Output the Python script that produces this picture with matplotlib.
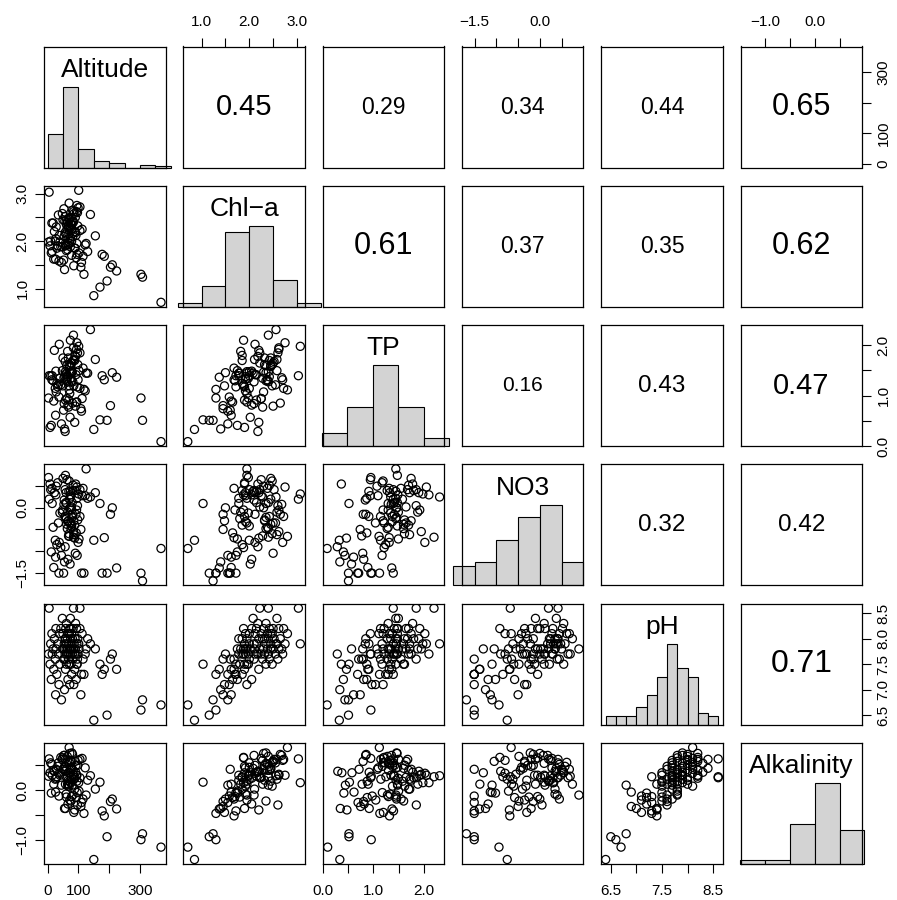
import numpy as np
import matplotlib
matplotlib.use("Agg")
import matplotlib.pyplot as plt

plt.rcParams['font.family'] = ['Liberation Sans', 'DejaVu Sans']

# one row per lake: values
altitude = [150, 368, 155, 170, 177, 184, 193, 204, 210, 224,
            118, 303, 308, 139, 45, 26, 108, 55, 37, 72,
            85, 12, 66, 93, 30, 78, 110, 58, 88, 20,
            61, 76, 95, 40, 96, 8, 70, 82, 52, 97,
            25, 68, 115, 56, 63, 88, 35, 74, 99, 15,
            57, 80, 122, 67, 3, 92, 71, 49, 84, 60,
            102, 28, 77, 90, 65, 53, 73, 125, 18, 69,
            86, 33, 79, 101, 54, 95, 10, 62, 75, 57,
            89, 64, 130, 22, 81, 58, 98, 70, 38, 70,
            66, 112, 50, 78, 14, 72, 94, 43, 83, 59,
            105, 27, 76, 61, 91, 48, 74, 84, 5, 105]
chla = [0.85, 0.71, 2.11, 1.03, 1.72, 1.68, 1.16, 1.45, 1.50, 1.37,
        1.30, 1.30, 1.24, 2.56, 1.55, 1.62, 1.45, 1.40, 1.58, 1.95,
        1.48, 1.75, 2.05, 1.65, 1.85, 1.70, 1.55, 1.90, 2.20, 1.62,
        1.80, 2.35, 1.95, 1.98, 1.72, 1.90, 2.48, 2.10, 1.60, 2.60,
        2.00, 2.28, 1.68, 2.42, 2.25, 1.85, 2.55, 1.88, 2.70, 1.78,
        2.18, 2.40, 1.92, 2.32, 1.98, 2.12, 2.45, 1.88, 2.62, 1.92,
        1.75, 2.30, 2.22, 2.50, 1.82, 2.68, 2.02, 1.95, 2.38, 2.15,
        2.58, 1.90, 2.35, 3.07, 2.10, 2.75, 2.00, 2.45, 2.28, 2.52,
        1.85, 2.40, 1.78, 2.20, 2.65, 1.95, 2.32, 2.48, 2.12, 2.80,
        1.92, 2.25, 2.45, 2.00, 2.38, 2.30, 2.62, 1.88, 2.42, 2.15,
        2.72, 2.05, 2.50, 2.35, 2.18, 2.58, 2.08, 2.40, 3.03, 2.22]
tp = [0.34, 0.10, 1.72, 0.53, 1.40, 1.32, 0.52, 0.81, 1.46, 1.37,
      1.13, 0.96, 0.52, 2.31, 0.45, 0.62, 0.75, 0.35, 0.98, 1.05,
      1.20, 0.42, 0.82, 0.88, 1.25, 1.30, 0.70, 0.92, 0.48, 0.90,
      1.45, 1.60, 0.88, 1.35, 1.18, 0.38, 1.62, 1.28, 0.72, 1.85,
      1.15, 0.78, 1.55, 1.38, 0.95, 1.70, 1.22, 2.10, 1.32, 1.40,
      0.30, 1.48, 1.10, 1.75, 0.96, 1.42, 1.58, 1.20, 1.95, 1.33,
      1.50, 1.08, 1.65, 0.80, 1.88, 1.36, 0.58, 1.45, 1.30, 0.92,
      1.72, 1.18, 1.46, 1.98, 0.85, 2.05, 1.40, 1.60, 1.35, 1.68,
      1.80, 1.28, 1.45, 1.90, 0.86, 1.48, 1.62, 1.20, 2.02, 1.12,
      1.38, 0.95, 1.75, 1.48, 1.32, 1.47, 1.92, 1.22, 1.70, 1.42,
      1.15, 1.49, 1.65, 1.30, 1.78, 1.50, 1.45, 2.20, 1.40, 1.85]
no3 = [-0.75, -0.94, 0.35, 0.10, -1.51, -0.69, -1.51, -0.15, 0.00, -1.39,
       -1.51, -1.51, -1.69, 0.25, -1.10, -1.14, -0.50, -1.25, -1.51, -0.35,
       -0.30, -1.02, -1.19, -0.58, -0.85, -0.05, -1.51, -0.20, -0.70, -1.38,
       -0.25, -0.48, 0.22, -0.12, -1.10, 0.55, -0.60, 0.40, -1.51, 0.05,
       -0.75, -0.65, 0.45, -0.20, 0.65, -0.40, -0.35, 0.30, -0.80, 0.10,
       -0.90, 0.12, 0.28, -0.30, 0.70, -0.15, 0.20, -0.05, -0.55, 0.35,
       -0.72, 0.50, 0.02, -1.05, -0.10, 0.08, -1.30, 0.90, -0.45, 0.38,
       -0.62, 0.58, -0.22, 0.32, 0.18, 0.48, 0.42, -0.38, 0.25, 0.42,
       0.40, -0.48, 0.22, 0.35, -0.15, 0.75, -0.28, 0.62, -0.80, -0.66,
       -0.32, 0.28, 0.68, -0.42, 0.45, 0.00, -0.05, -0.92, 0.52, 0.12,
       -0.20, 0.30, -0.35, 0.10, 0.55, -0.10, 0.38, -0.68, 0.20, 0.42]
ph = [6.4, 6.7, 7.8, 7.5, 7.3, 7.4, 6.5, 7.6, 7.7, 7.4,
      7.3, 6.6, 6.8, 7.9, 6.8, 6.9, 6.9, 7.0, 7.1, 7.1,
      7.1, 7.2, 7.2, 7.2, 7.3, 7.3, 7.3, 7.4, 7.4, 7.4,
      7.5, 7.5, 7.5, 7.5, 7.5, 7.5, 7.5, 7.6, 7.6, 7.6,
      7.6, 7.6, 7.6, 7.6, 7.7, 7.7, 7.7, 7.7, 7.7, 7.7,
      7.7, 7.7, 7.7, 7.7, 7.7, 7.7, 7.8, 7.8, 7.8, 7.8,
      7.8, 7.8, 7.8, 7.8, 7.8, 7.8, 7.8, 7.8, 7.8, 7.9,
      7.9, 7.9, 7.9, 7.9, 7.9, 7.9, 7.9, 7.9, 8.0, 8.0,
      8.0, 8.0, 8.0, 8.0, 8.0, 8.0, 8.0, 8.1, 8.1, 8.1,
      8.1, 8.1, 8.1, 8.1, 8.1, 8.2, 8.2, 8.2, 8.2, 8.2,
      8.2, 8.2, 8.2, 8.3, 8.3, 8.4, 8.4, 8.6, 8.6, 8.6]
alkalinity = [-1.40, -1.15, 0.02, 0.16, -0.42, -0.52, -0.94, -0.23, -0.18, -0.38,
              -0.47, -1.00, -0.88, 0.29, 0.10, -0.04, -0.33, -0.37, -0.12, -0.20,
              -0.45, -0.06, -0.28, -0.15, 0.27, -0.13, -0.25, -0.37, -0.40, 0.12,
              -0.14, -0.22, 0.18, 0.30, -0.05, 0.35, 0.08, -0.10, 0.42, -0.30,
              0.22, 0.12, -0.18, 0.48, 0.25, 0.02, 0.55, 0.15, 0.60, 0.30,
              0.38, 0.10, 0.45, 0.20, 0.28, 0.50, 0.18, 0.65, 0.32, -0.08,
              -0.02, 0.42, 0.26, 0.58, 0.12, 0.70, 0.35, -0.10, 0.40, 0.36,
              0.22, 0.48, 0.75, 0.15, 0.70, 0.30, 0.55, 0.44, 0.60, 0.62,
              0.25, 0.68, 0.20, 0.38, 0.72, 0.12, 0.50, 0.56, 0.34, 0.86,
              0.08, 0.64, 0.42, 0.46, 0.52, 0.74, 0.30, 0.66, 0.40, 0.28,
              0.62, 0.24, 0.58, 0.54, 0.36, 0.62, 0.44, 0.27, 0.63, 0.25]

names = ["Altitude", "Chl\u2212a", "TP", "NO3", "pH", "Alkalinity"]

# correlations printed in the upper panels (row by row)
cor_text = ["0.45", "0.29", "0.34", "0.44", "0.65",
            "0.61", "0.37", "0.35", "0.62",
            "0.16", "0.43", "0.47",
            "0.32", "0.42",
            "0.71"]

# histogram breaks for each variable
breaks = [[0, 50, 100, 150, 200, 250, 300, 350, 400],
          [0.5, 1.0, 1.5, 2.0, 2.5, 3.0, 3.5],
          [0.0, 0.5, 1.0, 1.5, 2.0, 2.5],
          [-2.0, -1.5, -1.0, -0.5, 0.0, 0.5, 1.0],
          [6.4, 6.6, 6.8, 7.0, 7.2, 7.4, 7.6, 7.8, 8.0, 8.2, 8.4, 8.6],
          [-1.5, -1.0, -0.5, 0.0, 0.5, 1.0]]

ticks = [[0, 100, 200, 300],
         [1.0, 1.5, 2.0, 2.5, 3.0],
         [0.0, 0.5, 1.0, 1.5, 2.0],
         [-1.5, -1.0, -0.5, 0.0, 0.5],
         [6.5, 7.0, 7.5, 8.0, 8.5],
         [-1.0, -0.5, 0.0, 0.5]]
tick_labels = [["0", "100", "", "300"],
               ["1.0", "", "2.0", "", "3.0"],
               ["0.0", "", "1.0", "", "2.0"],
               ["\u22121.5", "", "", "0.0", ""],
               ["6.5", "", "7.5", "", "8.5"],
               ["\u22121.0", "", "0.0", ""]]
ph_right_labels = ["6.5", "7.0", "7.5", "8.0", "8.5"]

cor_size = {(0, 1): 21, (0, 2): 16.5, (0, 3): 16.5, (0, 4): 16.5, (0, 5): 22,
            (1, 2): 22, (1, 3): 16.5, (1, 4): 16.5, (1, 5): 22,
            (2, 3): 15, (2, 4): 17.5, (2, 5): 21,
            (3, 4): 17.5, (3, 5): 17.5,
            (4, 5): 23}

data = [np.array(v, dtype=float) for v in
        [altitude, chla, tp, no3, ph, alkalinity]]
lims = []
for v in data:
    r = v.max() - v.min()
    lims.append((v.min() - 0.04 * r, v.max() + 0.04 * r))

n = len(data)
fig = plt.figure(figsize=(8.97, 9.0), dpi=100)
W, H = 897.0, 900.0
step = 139.3
pw, ph_ = 121.5, 121.0

k = 0
for i in range(n):
    for j in range(n):
        left = (44 + j * step) / W
        bottom = 1 - (46.5 + i * step + ph_) / H
        ax = fig.add_axes([left, bottom, pw / W, ph_ / H])
        ax.set_xlim(lims[j])
        ax.set_xticks([])
        ax.set_yticks([])
        for s in ax.spines.values():
            s.set_linewidth(0.9)

        if i == j:
            v = data[i]
            b = np.array(breaks[i], dtype=float)
            idx = np.searchsorted(b, v, side='left')
            idx = np.clip(idx - 1, 0, len(b) - 2)
            counts = np.bincount(idx, minlength=len(b) - 1)
            ax.set_ylim(0, 1.5)
            ax.bar(b[:-1], counts / counts.max(), width=np.diff(b), align='edge',
                   color='#D3D3D3', edgecolor='black', linewidth=0.8, clip_on=False)
            ax.text(0.5, 0.75, names[i], transform=ax.transAxes, ha='center',
                    va='baseline', fontsize=19)
        elif i > j:
            ax.set_ylim(lims[i])
            ax.scatter(data[j], data[i], s=34, facecolors='none',
                       edgecolors='black', linewidths=0.9)
        else:
            ax.set_ylim(lims[i])
            ax.text(0.5, 0.5, cor_text[k], transform=ax.transAxes, ha='center',
                    va='center', fontsize=cor_size[(i, j)])
            k += 1

        tp_kw = dict(length=6.5, width=0.8, direction='out', labelsize=11)
        if i == 0 and j % 2 == 1:
            ax.set_xticks(ticks[j])
            ax.set_xticklabels(tick_labels[j])
            ax.tick_params(axis='x', top=True, labeltop=True, bottom=False,
                           labelbottom=False, pad=6, **tp_kw)
        if i == n - 1 and j % 2 == 0:
            ax.set_xticks(ticks[j])
            ax.set_xticklabels(tick_labels[j])
            ax.tick_params(axis='x', pad=8, **tp_kw)
        if j == 0 and i % 2 == 1:
            ax.set_yticks(ticks[i])
            ax.set_yticklabels(tick_labels[i], rotation=90, va='center')
            ax.tick_params(axis='y', pad=4, **tp_kw)
        if j == n - 1 and i % 2 == 0:
            ax.set_yticks(ticks[i])
            labs = ph_right_labels if i == 4 else tick_labels[i]
            ax.set_yticklabels(labs, rotation=90, va='center')
            ax.tick_params(axis='y', left=False, labelleft=False, right=True,
                           labelright=True, pad=4, **tp_kw)

fig.savefig("out.png", dpi=100)
